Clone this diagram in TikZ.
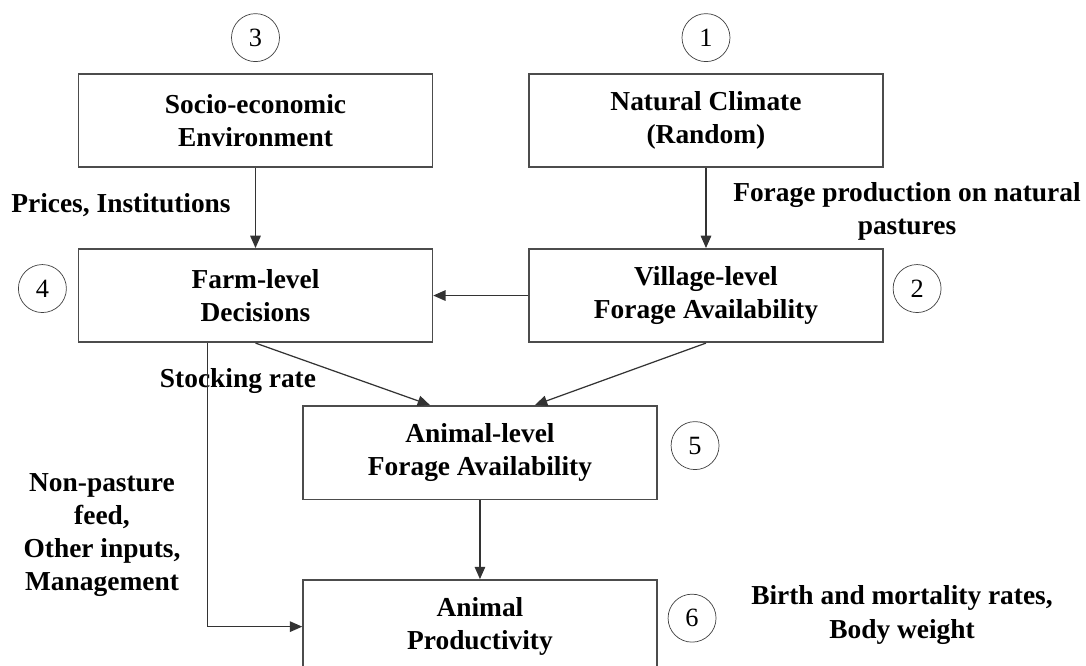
\documentclass[tikz,border=0pt]{standalone}
\usepackage{fontspec}
\setmainfont{Liberation Serif}
\usetikzlibrary{arrows.meta, positioning}

\begin{document}
\begin{tikzpicture}[x=.02cm,y=-.02cm,>={Triangle[length=7pt,width=6pt]},
  every node/.style={font=\bfseries\fontsize{15.6}{18.8}\selectfont},
  box/.style={draw=black!70,line width=.9pt,align=center,
    minimum width=7.08cm,minimum height=1.87cm},
  num/.style={draw=black!75,circle,minimum size=.96cm,inner sep=0pt,
    font=\mdseries\fontsize{15}{18}\selectfont},
  lbl/.style={align=center,inner sep=1pt},
  link/.style={->,draw=black!80,line width=.7pt}]
 \useasboundingbox (0,0) rectangle (1086,666);
 \node[box] (socio) at (255.5,120.5) {Socio-economic\\Environment};
 \node[box,right=1.9cm of socio] (climate) {Natural Climate\\(Random)};
 \node[box,below=1.6cm of socio] (farm) {Farm-level\\Decisions};
 \node[box,right=1.9cm of farm] (village) {Village-level\\Forage Availability};
 \node[box,below=1.24cm of farm,xshift=4.49cm] (animal)
   {Animal-level\\Forage Availability};
 \node[box,below=1.58cm of animal] (prod) {Animal\\Productivity};
 \node[num,above=.22cm of socio] (n3) {3};
 \node[num,above=.22cm of climate] (n1) {1};
 \node[num,left=.22cm of farm,yshift=.14cm] (n4) {4};
 \node[num,right=.18cm of village,yshift=.14cm] (n2) {2};
 \node[num,right=.26cm of animal,yshift=.14cm] (n5) {5};
 \node[num,right=.2cm of prod,yshift=.17cm] (n6) {6};
 \node[lbl] (prices) at (121,205) {Prices, Institutions};
 \node[lbl] (forage) at (907,211) {Forage production on natural\\pastures};
 \node[lbl] (stock) at (238,381) {Stocking rate};
 \node[lbl] (inputs) at (102,535)
   {Non-pasture\\feed,\\Other inputs,\\Management};
 \node[lbl] (rates) at (902,615) {Birth and mortality rates,\\Body weight};
 \draw[link] (socio) -- (farm);
 \draw[link] (climate) -- (village);
 \draw[link] (village) -- (farm);
 \draw[link] (farm.south) -- ([xshift=-1cm]animal.north);
 \draw[link] (village.south) -- ([xshift=1.1cm]animal.north);
 \draw[link] (animal) -- (prod);
 \draw[link] ([xshift=2.6cm]farm.south west) |- (prod.west);
\end{tikzpicture}
\end{document}
